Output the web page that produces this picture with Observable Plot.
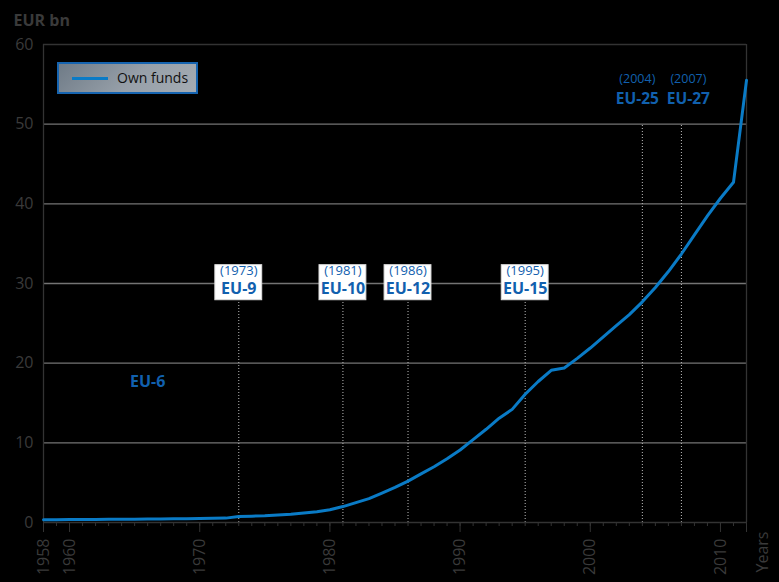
<!DOCTYPE html>
<html>
<head>
<meta charset="utf-8">
<script src="https://cdn.jsdelivr.net/npm/d3@7"></script>
<script src="https://cdn.jsdelivr.net/npm/@observablehq/plot@0.6"></script>
<style>
  html, body { margin: 0; padding: 0; background: #000; }
  #wrap { position: relative; width: 779px; height: 582px; background: #000; overflow: hidden; }
  #legend {
    position: absolute; left: 57px; top: 62px; width: 137px; height: 28px;
    border: 2px solid #1664b0;
    background: linear-gradient(135deg, #6f7b87 0%, #97a0a9 55%, #a4abb3 100%);
    font-family: "Open Sans", sans-serif; font-size: 14px; color: #111;
  }
  #legend .sw { position: absolute; left: 13px; top: 13px; width: 36px; height: 3px; background: #0a7bc6; }
  #legend .lb { position: absolute; left: 58px; top: 4px; }
</style>
</head>
<body>
<div id="wrap"><div id="legend"><span class="sw"></span><span class="lb">Own funds</span></div></div>
<script>
const years = [1958,1959,1960,1961,1962,1963,1964,1965,1966,1967,1968,1969,1970,1971,1972,
  1973,1974,1975,1976,1977,1978,1979,1980,1981,1982,1983,1984,1985,1986,1987,1988,1989,
  1990,1991,1992,1993,1994,1995,1996,1997,1998,1999,2000,2001,2002,2003,2004,2005,2006,
  2007,2008,2009,2010,2011,2012];
const ownFunds = [0.35,0.36,0.37,0.38,0.39,0.40,0.41,0.42,0.43,0.44,0.46,0.48,0.50,0.52,0.55,
  0.75,0.80,0.85,0.95,1.05,1.2,1.35,1.6,2.0,2.5,3.0,3.7,4.4,5.2,6.1,7.0,8.0,
  9.1,10.4,11.7,13.1,14.2,16.1,17.7,19.1,19.4,20.6,21.9,23.3,24.7,26.1,27.7,29.5,31.5,
  33.7,36.1,38.5,40.7,42.7,55.5];
const yTicks = [0,10,20,30,40,50,60];
const xLabelTicks = [1958,1960,1970,1980,1990,2000,2010];
const boxedYears = [1973,1981,1986,1995];
const boxedLabels = ["EU-9","EU-10","EU-12","EU-15"];
const topYears = [2004,2007];
const topLabels = ["EU-25","EU-27"];

const series = years.map((y,i) => ({year: y, value: ownFunds[i]}));
const boxed = boxedYears.map((y,i) => ({year: y, label: boxedLabels[i]}));
const tops = topYears.map((y,i) => ({year: y, label: topLabels[i]}));

const blueText = "#1160ae";
const xMin = years[0], xMax = years[years.length-1];

const chart = Plot.plot({
  width: 779, height: 582,
  marginLeft: 43, marginRight: 33, marginTop: 44, marginBottom: 60,
  style: {background: "#000", color: "#3a3a3a", fontFamily: "'Open Sans', sans-serif", fontSize: "15px"},
  x: {domain: [xMin, xMax]},
  y: {domain: [0, 60]},
  marks: [
    Plot.ruleY(yTicks.filter(d => d > 0 && d < 60), {stroke: "#747474", strokeWidth: 1.3}),
    Plot.ruleY([60], {stroke: "#333", strokeWidth: 1.3}),
    Plot.ruleX([xMin, xMax], {stroke: "#333", strokeWidth: 1.3}),
    Plot.ruleX(boxedYears, {y1: 0, y2: 27.9, stroke: "#bbb", strokeWidth: 1, strokeDasharray: "1,2"}),
    Plot.ruleX(topYears, {y1: 0, y2: 50, stroke: "#bbb", strokeWidth: 1, strokeDasharray: "1,2"}),
    Plot.ruleY([0], {stroke: "#333", strokeWidth: 1.3}),
    Plot.axisY({ticks: yTicks, tickSize: 0, tickPadding: 10, label: null, fontSize: 16, tickFormat: "d"}),
    Plot.axisX({ticks: years, tickSize: 4, tickFormat: () => "", label: null, stroke: "#333"}),
    Plot.axisX({ticks: xLabelTicks.concat([xMax]), tickSize: 10, tickPadding: 6, tickRotate: -90,
      tickFormat: d => d === xMax ? "" : String(d), label: null, fontSize: 16, stroke: "#333"}),
    Plot.line(series, {x: "year", y: "value", stroke: "#0a7bc6", strokeWidth: 3, curve: "linear"}),
    Plot.rect(boxed, {x1: d => d.year - 1.8, x2: d => d.year + 1.8, y1: 27.9, y2: 32.3, fill: "#fff", stroke: "#ddd"}),
    Plot.text(boxed, {x: "year", y: 31.6, text: d => "(" + d.year + ")", fill: blueText, fontSize: 13}),
    Plot.text(boxed, {x: "year", y: 29.3, text: "label", fill: blueText, fontSize: 16, fontWeight: "bold"}),
    Plot.text(tops.filter(d => d.year === 2004), {x: "year", y: 55.7, text: d => "(" + d.year + ")", fill: blueText, fontSize: 12.5, dx: -5}),
    Plot.text(tops.filter(d => d.year === 2004), {x: "year", y: 53.2, text: "label", fill: blueText, fontSize: 15.5, fontWeight: "bold", dx: -5}),
    Plot.text(tops.filter(d => d.year === 2007), {x: "year", y: 55.7, text: d => "(" + d.year + ")", fill: blueText, fontSize: 12.5, dx: 7}),
    Plot.text(tops.filter(d => d.year === 2007), {x: "year", y: 53.2, text: "label", fill: blueText, fontSize: 15.5, fontWeight: "bold", dx: 7}),
    Plot.text(["EU-6"], {x: 1966, y: 17.7, text: d => d, fill: blueText, fontSize: 16, fontWeight: "bold"}),
    Plot.text(["EUR bn"], {frameAnchor: "top-left", text: d => d, textAnchor: "start", lineAnchor: "bottom", dx: -30, dy: -19, fontSize: 16, fontWeight: "bold", fill: "#3a3a3a"}),
    Plot.text(["Years"], {frameAnchor: "bottom-right", text: d => d, rotate: -90, textAnchor: "start", lineAnchor: "middle", dx: 16, dy: 50, fontSize: 16, fill: "#3a3a3a"})
  ]
});
document.getElementById("wrap").prepend(chart);
</script>
</body>
</html>
